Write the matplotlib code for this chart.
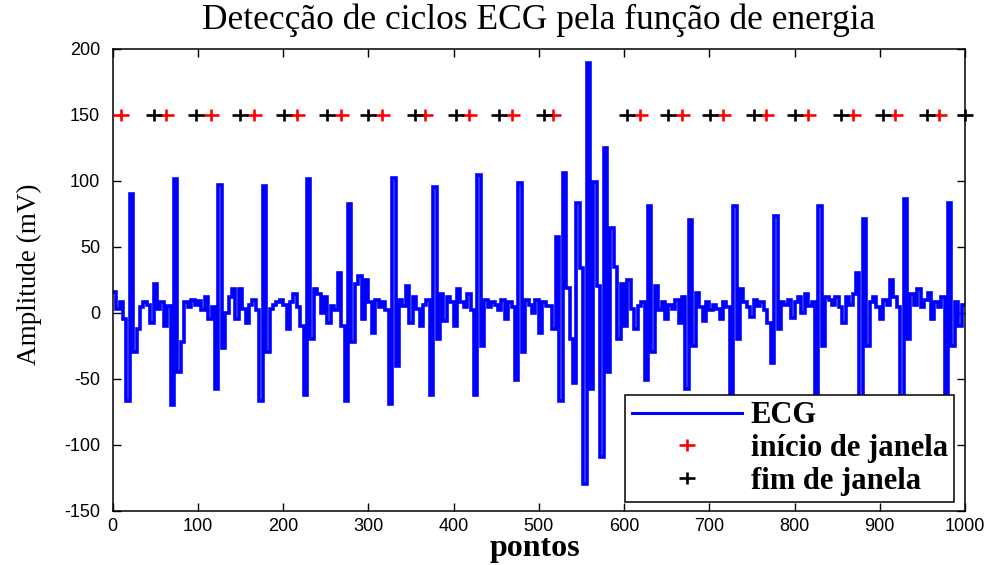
import numpy as np
import matplotlib
matplotlib.use("Agg")
import matplotlib.pyplot as plt
from matplotlib.path import Path
from matplotlib.lines import Line2D

# ---------------- data ----------------
# ECG amplitude (mV), one value per 4-point sample (sample-and-hold signal)
sample_step = 4
ecg = [
    16, 3, 8, -5, -67, 90, -30, -12, 4, 8,
    6, -8, 22, 3, 8, -10, 5, -70, 101, -45,
    -22, 8, 4, 10, 6, 9, 2, 12, -5, 4,
    -58, 97, -27, 0, 12, 18, -5, 18, 3, -8,
    6, 10, 2, -67, 96, -30, 3, 6, 8, 10,
    6, -12, 8, 14, 4, -10, -62, 101, -20, 18,
    14, 0, 12, -8, 5, 2, 30, -10, -67, 82,
    -22, 22, 28, -5, 25, 8, -15, 10, 4, 8,
    2, -69, 102, -40, 10, 5, 20, -8, 12, 3,
    -10, 6, 10, -62, 95, -20, 14, -6, 12, 8,
    -10, 18, 8, 4, 14, 2, -62, 104, -25, 10,
    4, 8, 6, 2, 10, -5, 8, 4, -51, 98,
    -30, 10, 6, 0, 10, -15, 8, 5, 5, -12,
    57, -67, 106, 19, -20, -53, 83, 34, -130, 189,
    -58, 99, 20, -109, 125, -45, 64, 35, -20, 22,
    -10, 25, 3, -12, 5, 8, -51, 81, -30, 20,
    2, 8, -5, 6, 3, 10, -8, 12, -58, 70,
    -25, 15, 4, -6, 8, 2, 6, 3, -5, 8,
    4, -62, 81, -20, 18, 8, 4, -3, 10, 5,
    8, 2, -8, -38, 73, -12, 8, 6, 10, -4,
    8, 12, 0, 14, 5, 8, -75, 81, -25, 12,
    10, 6, 12, 4, -8, 12, 6, 14, 30, -75,
    71, -25, 8, 12, 4, -5, 10, 6, 25, 12,
    4, -72, 86, -20, 14, 6, 18, 4, 10, 15,
    -5, 8, 4, 12, -70, 83, -25, 8, -10, 6,
]

# window start / end positions (points)
inicio_janela = [10, 63, 115, 166, 216, 268, 316, 367, 418, 468, 517,
                 619, 668, 716, 767, 816, 869, 918, 970]
fim_janela = [48, 98, 149, 201, 252, 300, 355, 403, 453, 506,
              603, 652, 701, 752, 801, 855, 904, 955, 1000]
nivel_marcador = 150

titulo = "Detecção de ciclos ECG pela função de energia"
rotulo_x = "pontos"
rotulo_y = "Amplitude (mV)"
legenda = ["ECG", "início de janela", "fim de janela"]
xticks = list(range(0, 1001, 100))
yticks = list(range(-150, 201, 50))

# ---------------- figure ----------------
plt.rcParams["axes.unicode_minus"] = False
serif = ["Liberation Serif", "DejaVu Serif"]
sans = ["Liberation Sans", "DejaVu Sans"]

fig = plt.figure(figsize=(9.92, 5.65), dpi=100)
ax = fig.add_axes([0.1136, 0.0961, 0.8592, 0.8177])

ecg_arr = np.asarray(ecg, dtype=float)
x = np.arange(len(ecg_arr) + 1) * sample_step
y = np.append(ecg_arr, ecg_arr[-1])
ax.plot(x, y, drawstyle="steps-post", color=(0, 0, 1), lw=2.6,
        solid_joinstyle="miter", zorder=2)

plus = Path([(-1.5, 0), (1.5, 0), (0, -1), (0, 1)],
            [Path.MOVETO, Path.LINETO, Path.MOVETO, Path.LINETO])
mk = dict(marker=plus, markersize=12.2, markeredgewidth=1.9,
          markerfacecolor="none", linestyle="none")
ax.plot(inicio_janela, [nivel_marcador] * len(inicio_janela),
        markeredgecolor=(1, 0, 0), clip_on=False, zorder=3, **mk)
ax.plot(fim_janela, [nivel_marcador] * len(fim_janela),
        markeredgecolor="black", clip_on=False, zorder=3, **mk)

ax.set_xlim(0, 1000)
ax.set_ylim(-150, 200)
ax.set_xticks(xticks)
ax.set_yticks(yticks)
ax.tick_params(direction="in", top=True, right=True, length=6, width=1,
               labelsize=13)
ax.tick_params(axis="x", pad=5)
ax.tick_params(axis="y", pad=9)
for lab in ax.get_xticklabels() + ax.get_yticklabels():
    lab.set_family(sans)
for s in ax.spines.values():
    s.set_linewidth(1.1)
    s.set_color("black")

ax.set_title(titulo, family=serif, fontsize=25.5, y=1.062, pad=0,
             va="center")
ax.set_xlabel(rotulo_x, family=serif, fontsize=23, fontweight="bold",
              va="center")
ax.xaxis.set_label_coords(0.4955, -0.081)
ax.set_ylabel(rotulo_y, family=serif, fontsize=19.5, va="center")
ax.yaxis.set_label_coords(-0.098, 0.512)

handles = [
    Line2D([], [], color=(0, 0, 1), lw=2.2),
    Line2D([], [], markeredgecolor=(1, 0, 0), **mk),
    Line2D([], [], markeredgecolor="black", **mk),
]
leg = ax.legend(handles, legenda, loc="lower right",
                bbox_to_anchor=(0.987, 0.019), borderaxespad=0,
                prop={"family": serif, "size": 22, "weight": "bold"},
                handlelength=3.6, handletextpad=0.3, labelspacing=0.12,
                borderpad=0.2, fancybox=False, framealpha=1,
                edgecolor="black")
leg.get_frame().set_linewidth(1.1)
leg.set_zorder(5)

fig.savefig("out.png", dpi=100)
